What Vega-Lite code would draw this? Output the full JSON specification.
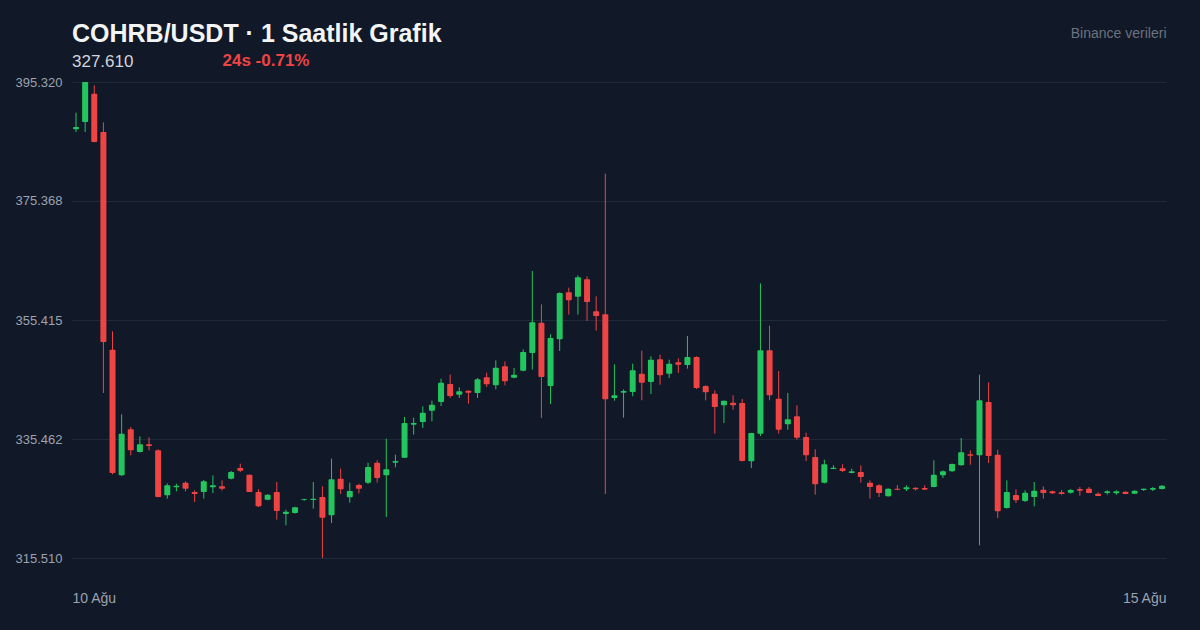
{
  "$schema": "https://vega.github.io/schema/vega-lite/v6.json",
  "width": 1094,
  "height": 476,
  "autosize": {"type": "none"},
  "padding": {"left": 72, "top": 82, "right": 34, "bottom": 72},
  "background": "#111827",
  "config": {"view": {"stroke": null}, "font": "Liberation Sans"},
  "title": {
    "text": "COHRB/USDT · 1 Saatlik Grafik",
    "subtitle": "327.610",
    "anchor": "start",
    "frame": "group",
    "font": "Liberation Sans",
    "fontSize": 25,
    "fontWeight": "bold",
    "color": "#f3f4f6",
    "subtitleFont": "Liberation Sans",
    "subtitleFontSize": 17,
    "subtitleColor": "#d1d5db",
    "subtitlePadding": 7,
    "offset": 12,
    "dy": 56
  },
  "data": {"values": [
    {"i":0,"o":387.38,"h":390.18,"l":386.94,"c":387.77},
    {"i":1,"o":388.61,"h":395.32,"l":386.94,"c":395.32},
    {"i":2,"o":393.36,"h":394.76,"l":385.20,"c":385.26},
    {"i":3,"o":386.94,"h":388.56,"l":343.18,"c":351.73},
    {"i":4,"o":350.44,"h":353.51,"l":329.54,"c":329.76},
    {"i":5,"o":329.37,"h":339.60,"l":329.26,"c":336.36},
    {"i":6,"o":337.08,"h":337.47,"l":332.72,"c":333.56},
    {"i":7,"o":333.28,"h":335.91,"l":333.20,"c":334.57},
    {"i":8,"o":334.57,"h":335.74,"l":333.56,"c":334.29},
    {"i":9,"o":333.56,"h":333.73,"l":325.68,"c":325.74},
    {"i":10,"o":326.02,"h":328.03,"l":325.46,"c":327.70},
    {"i":11,"o":327.36,"h":327.97,"l":326.69,"c":327.64},
    {"i":12,"o":328.14,"h":328.36,"l":326.69,"c":327.13},
    {"i":13,"o":326.58,"h":326.86,"l":324.90,"c":326.24},
    {"i":14,"o":326.58,"h":328.59,"l":325.46,"c":328.36},
    {"i":15,"o":327.36,"h":329.37,"l":326.41,"c":327.70},
    {"i":16,"o":327.53,"h":328.53,"l":326.80,"c":327.13},
    {"i":17,"o":328.81,"h":330.10,"l":328.70,"c":329.93},
    {"i":18,"o":330.60,"h":331.33,"l":329.93,"c":330.15},
    {"i":19,"o":329.48,"h":329.50,"l":326.55,"c":326.58},
    {"i":20,"o":326.58,"h":327.02,"l":324.06,"c":324.17},
    {"i":21,"o":325.29,"h":326.20,"l":325.20,"c":326.13},
    {"i":22,"o":326.58,"h":328.25,"l":321.94,"c":323.39},
    {"i":23,"o":322.89,"h":323.61,"l":320.99,"c":323.28},
    {"i":24,"o":323.05,"h":324.10,"l":322.95,"c":324.00},
    {"i":25,"o":325.23,"h":325.46,"l":325.07,"c":325.35},
    {"i":26,"o":325.23,"h":328.25,"l":323.78,"c":325.46},
    {"i":27,"o":325.74,"h":327.53,"l":315.51,"c":322.27},
    {"i":28,"o":322.67,"h":332.17,"l":321.38,"c":328.70},
    {"i":29,"o":328.81,"h":330.49,"l":326.24,"c":327.02},
    {"i":30,"o":325.68,"h":328.14,"l":324.79,"c":326.74},
    {"i":31,"o":327.75,"h":327.97,"l":326.35,"c":327.13},
    {"i":32,"o":328.14,"h":331.49,"l":327.92,"c":330.77},
    {"i":33,"o":331.49,"h":331.89,"l":328.14,"c":328.92},
    {"i":34,"o":329.37,"h":335.52,"l":322.39,"c":330.38},
    {"i":35,"o":331.49,"h":332.83,"l":330.71,"c":331.77},
    {"i":36,"o":332.33,"h":339.15,"l":332.28,"c":338.14},
    {"i":37,"o":337.87,"h":339.04,"l":336.19,"c":338.14},
    {"i":38,"o":338.31,"h":340.94,"l":337.31,"c":339.88},
    {"i":39,"o":340.21,"h":341.89,"l":338.42,"c":341.22},
    {"i":40,"o":341.67,"h":345.58,"l":340.99,"c":344.91},
    {"i":41,"o":344.68,"h":346.25,"l":342.34,"c":342.67},
    {"i":42,"o":342.90,"h":344.12,"l":342.34,"c":343.46},
    {"i":43,"o":343.57,"h":343.60,"l":341.39,"c":343.23},
    {"i":44,"o":343.18,"h":345.69,"l":342.34,"c":345.47},
    {"i":45,"o":345.80,"h":346.58,"l":344.18,"c":344.63},
    {"i":46,"o":344.46,"h":348.65,"l":343.79,"c":347.42},
    {"i":47,"o":347.65,"h":348.48,"l":344.46,"c":345.13},
    {"i":48,"o":345.75,"h":347.37,"l":345.64,"c":346.25},
    {"i":49,"o":346.92,"h":350.50,"l":346.80,"c":350.05},
    {"i":50,"o":349.88,"h":363.63,"l":347.09,"c":355.02},
    {"i":51,"o":354.97,"h":358.04,"l":338.98,"c":345.86},
    {"i":52,"o":344.35,"h":353.01,"l":341.33,"c":352.40},
    {"i":53,"o":352.17,"h":360.05,"l":350.22,"c":359.94},
    {"i":54,"o":360.05,"h":360.84,"l":356.31,"c":358.71},
    {"i":55,"o":359.33,"h":362.90,"l":356.31,"c":362.57},
    {"i":56,"o":362.23,"h":362.74,"l":355.25,"c":358.43},
    {"i":57,"o":356.87,"h":359.38,"l":353.63,"c":356.09},
    {"i":58,"o":356.37,"h":379.95,"l":326.24,"c":342.11},
    {"i":59,"o":342.34,"h":347.98,"l":341.89,"c":342.79},
    {"i":60,"o":343.23,"h":343.79,"l":339.04,"c":343.51},
    {"i":61,"o":343.34,"h":348.09,"l":342.62,"c":346.97},
    {"i":62,"o":346.42,"h":350.27,"l":341.95,"c":344.91},
    {"i":63,"o":345.02,"h":349.32,"l":343.01,"c":348.76},
    {"i":64,"o":348.82,"h":349.60,"l":344.57,"c":346.14},
    {"i":65,"o":346.42,"h":348.76,"l":345.69,"c":348.09},
    {"i":66,"o":348.32,"h":348.99,"l":346.53,"c":347.93},
    {"i":67,"o":347.87,"h":352.73,"l":347.26,"c":349.21},
    {"i":68,"o":349.21,"h":349.32,"l":343.85,"c":344.01},
    {"i":69,"o":344.35,"h":344.46,"l":341.95,"c":343.29},
    {"i":70,"o":343.06,"h":343.62,"l":336.36,"c":340.83},
    {"i":71,"o":341.11,"h":341.90,"l":338.14,"c":341.89},
    {"i":72,"o":341.55,"h":342.79,"l":340.38,"c":341.11},
    {"i":73,"o":341.50,"h":342.17,"l":331.70,"c":331.77},
    {"i":74,"o":331.72,"h":336.50,"l":330.60,"c":336.47},
    {"i":75,"o":336.36,"h":361.56,"l":335.96,"c":350.33},
    {"i":76,"o":350.33,"h":354.46,"l":341.95,"c":342.79},
    {"i":77,"o":342.23,"h":346.86,"l":336.36,"c":337.03},
    {"i":78,"o":337.92,"h":343.18,"l":337.03,"c":338.76},
    {"i":79,"o":339.26,"h":341.11,"l":335.35,"c":335.69},
    {"i":80,"o":335.80,"h":336.52,"l":331.77,"c":332.72},
    {"i":81,"o":332.44,"h":333.73,"l":326.13,"c":327.86},
    {"i":82,"o":328.14,"h":331.99,"l":328.00,"c":331.21},
    {"i":83,"o":330.43,"h":331.05,"l":330.40,"c":330.66},
    {"i":84,"o":330.54,"h":331.21,"l":329.93,"c":330.10},
    {"i":85,"o":329.76,"h":330.49,"l":329.70,"c":330.04},
    {"i":86,"o":329.93,"h":331.05,"l":328.14,"c":329.09},
    {"i":87,"o":328.14,"h":328.53,"l":325.46,"c":327.41},
    {"i":88,"o":327.70,"h":327.86,"l":325.74,"c":326.41},
    {"i":89,"o":325.85,"h":327.20,"l":325.80,"c":327.13},
    {"i":90,"o":327.13,"h":327.75,"l":326.86,"c":326.97},
    {"i":91,"o":327.02,"h":327.70,"l":326.74,"c":327.36},
    {"i":92,"o":327.30,"h":327.35,"l":326.80,"c":327.02},
    {"i":93,"o":327.25,"h":327.70,"l":326.95,"c":326.97},
    {"i":94,"o":327.41,"h":331.89,"l":327.36,"c":329.48},
    {"i":95,"o":329.37,"h":330.20,"l":328.92,"c":330.04},
    {"i":96,"o":330.04,"h":331.35,"l":329.95,"c":331.27},
    {"i":97,"o":331.05,"h":335.63,"l":331.00,"c":333.23},
    {"i":98,"o":332.89,"h":333.56,"l":331.16,"c":332.67},
    {"i":99,"o":332.72,"h":346.25,"l":317.63,"c":341.95},
    {"i":100,"o":341.67,"h":344.96,"l":331.44,"c":332.61},
    {"i":101,"o":332.83,"h":333.67,"l":322.22,"c":323.33},
    {"i":102,"o":323.89,"h":328.53,"l":323.80,"c":326.58},
    {"i":103,"o":326.07,"h":327.02,"l":324.73,"c":325.18},
    {"i":104,"o":325.07,"h":326.86,"l":324.90,"c":326.46},
    {"i":105,"o":325.74,"h":328.25,"l":324.17,"c":326.80},
    {"i":106,"o":326.97,"h":327.53,"l":325.46,"c":326.41},
    {"i":107,"o":326.69,"h":326.80,"l":326.24,"c":326.35},
    {"i":108,"o":326.52,"h":326.91,"l":326.13,"c":326.24},
    {"i":109,"o":326.46,"h":327.08,"l":326.30,"c":326.91},
    {"i":110,"o":327.08,"h":327.41,"l":325.96,"c":326.80},
    {"i":111,"o":327.13,"h":327.41,"l":326.38,"c":326.41},
    {"i":112,"o":326.30,"h":326.52,"l":325.88,"c":325.90},
    {"i":113,"o":326.41,"h":326.86,"l":326.13,"c":326.69},
    {"i":114,"o":326.35,"h":326.86,"l":326.13,"c":326.69},
    {"i":115,"o":326.63,"h":326.69,"l":326.20,"c":326.24},
    {"i":116,"o":326.30,"h":326.85,"l":326.24,"c":326.80},
    {"i":117,"o":326.91,"h":327.16,"l":326.74,"c":327.13},
    {"i":118,"o":326.97,"h":327.41,"l":326.74,"c":327.25},
    {"i":119,"o":327.08,"h":327.75,"l":327.00,"c":327.61}
  ]},
  "layer": [
    {
      "mark": {"type": "rule", "strokeWidth": 1},
      "encoding": {
        "x": {
          "field": "i", "type": "quantitative",
          "scale": {"domain": [-0.44, 119.44], "nice": false, "zero": false, "padding": 0},
          "axis": {
            "orient": "bottom", "values": [-0.44, 119.44],
            "labelExpr": "datum.value < 50 ? '10 Ağu' : '15 Ağu'",
            "labelFlush": true,
            "labelAlign": {"condition": {"test": "datum.value < 50", "value": "left"}, "value": "right"},
            "domain": false, "ticks": false, "grid": false,
            "title": null, "labelColor": "#9ca3af", "labelFontSize": 14,
            "labelFont": "Liberation Sans", "labelPadding": 33
          }
        },
        "y": {
          "field": "l", "type": "quantitative",
          "scale": {"domain": [315.51, 395.32], "nice": false, "zero": false},
          "axis": {
            "orient": "left",
            "values": [315.51, 335.462, 355.415, 375.368, 395.32],
            "format": ".3f", "domain": false, "ticks": false, "grid": true,
            "gridColor": "#1f2937", "gridWidth": 1.2, "title": null,
            "labelColor": "#9ca3af", "labelFontSize": 13, "labelFont": "Liberation Sans",
            "labelPadding": 10
          }
        },
        "y2": {"field": "h"},
        "color": {"condition": {"test": "datum.c >= datum.o", "value": "#22c55e"}, "value": "#ef4444"}
      }
    },
    {
      "mark": {"type": "bar", "width": 6, "cornerRadius": 1},
      "encoding": {
        "x": {
          "field": "i", "type": "quantitative",
          "axis": {
            "orient": "top", "labels": false, "ticks": false, "domain": false, "grid": false,
            "title": "24s -0.71%", "titleColor": "#ef4444", "titleFontSize": 17,
            "titleFont": "Liberation Sans", "titleFontWeight": "bold",
            "titleX": 150, "titleY": -22, "titleAlign": "left", "titleBaseline": "middle",
            "titleAnchor": "start"
          }
        },
        "y": {
          "field": "o", "type": "quantitative",
          "axis": {
            "orient": "right", "labels": false, "ticks": false, "domain": false, "grid": false,
            "title": "Binance verileri", "titleAngle": 0, "titleX": 0, "titleY": -49,
            "titleAlign": "right", "titleBaseline": "middle", "titleColor": "#6b7280",
            "titleFontSize": 14, "titleFont": "Liberation Sans", "titleFontWeight": "normal"
          }
        },
        "y2": {"field": "c"},
        "color": {"condition": {"test": "datum.c >= datum.o", "value": "#22c55e"}, "value": "#ef4444"}
      }
    }
  ],
  "resolve": {"axis": {"x": "independent", "y": "independent"}}
}
